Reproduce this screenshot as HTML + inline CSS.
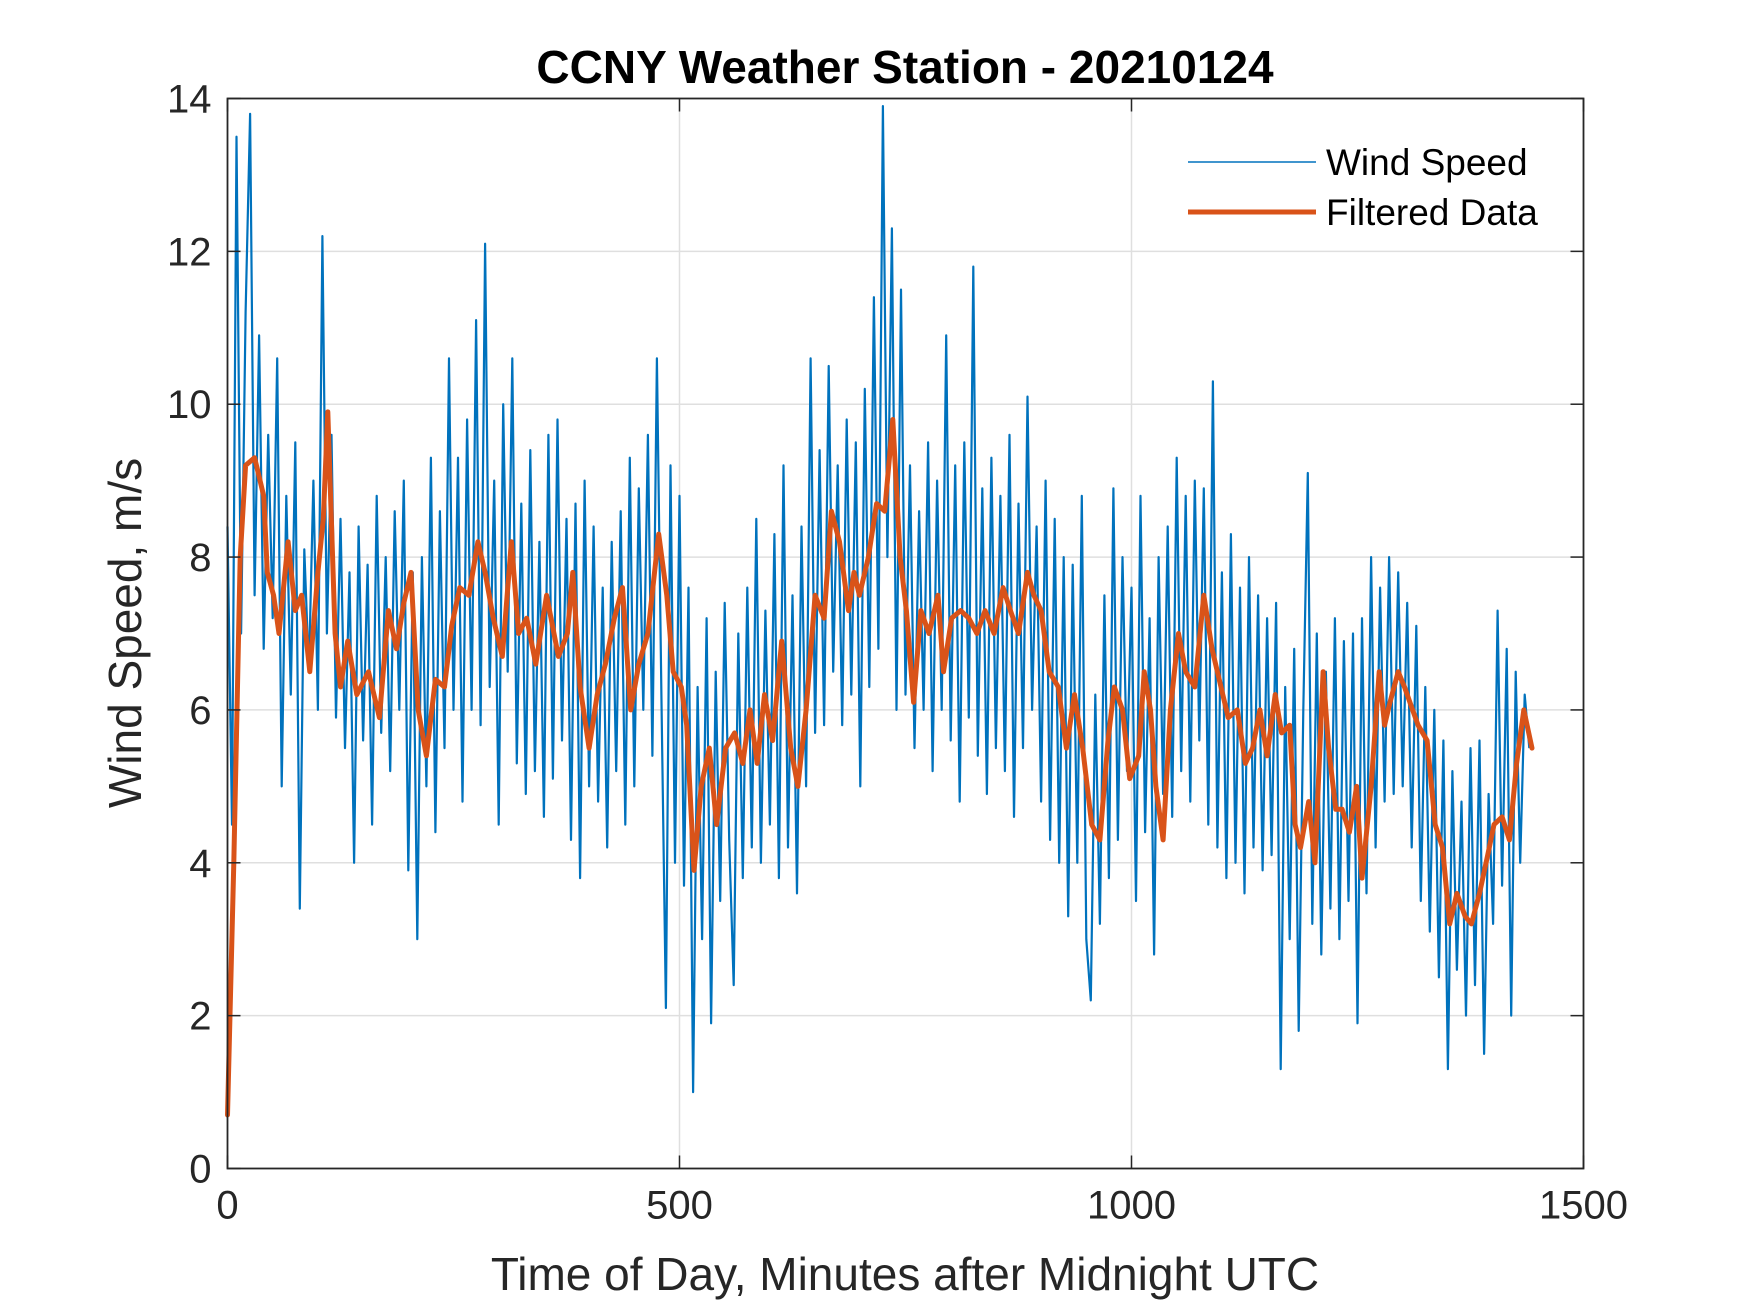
<!DOCTYPE html>
<html><head><meta charset="utf-8"><style>
html,body{margin:0;padding:0;background:#fff;}
svg{display:block;font-family:"Liberation Sans",Arial,sans-serif;}
</style></head><body>
<svg id="chart" width="1750" height="1313" viewBox="0 0 1750 1313" xmlns="http://www.w3.org/2000/svg">
<g id="grid"></g>
<g id="series"></g>
<g id="axes"></g>
<text x="905" y="83" text-anchor="middle" font-size="46" font-weight="bold" fill="#000">CCNY Weather Station - 20210124</text>
<text x="905" y="1290" text-anchor="middle" font-size="46" fill="#262626">Time of Day, Minutes after Midnight UTC</text>
<text transform="translate(141,633) rotate(-90)" text-anchor="middle" font-size="46" fill="#262626">Wind Speed, m/s</text>
<g>
<line x1="1188" y1="162" x2="1316" y2="162" stroke="#0072BD" stroke-width="1.6"/>
<text x="1326" y="175" font-size="37" fill="#000">Wind Speed</text>
<line x1="1188" y1="212" x2="1316" y2="212" stroke="#D95319" stroke-width="5"/>
<text x="1326" y="225" font-size="37" fill="#000">Filtered Data</text>
</g>
</svg>
<script>
const xTicks = [0, 500, 1000, 1500];
const yTicks = [0, 2, 4, 6, 8, 10, 12, 14];
const windStep = 5;
const windSpeed = [
8.4,4.5,13.5,7.0,11.2,13.8,7.5,10.9,6.8,9.6,7.2,10.6,
5.0,8.8,6.2,9.5,3.4,8.1,6.5,9.0,6.0,12.2,7.0,9.6,
5.9,8.5,5.5,7.8,4.0,8.4,5.6,7.9,4.5,8.8,5.7,8.0,
5.2,8.6,6.0,9.0,3.9,7.8,3.0,8.0,5.0,9.3,4.4,8.6,
5.5,10.6,6.0,9.3,4.8,9.8,6.0,11.1,5.8,12.1,6.3,9.0,
4.5,10.0,6.5,10.6,5.3,8.7,4.9,9.4,5.2,8.2,4.6,9.6,
5.1,9.8,5.6,8.5,4.3,8.7,3.8,9.0,5.0,8.4,4.8,7.6,
4.2,8.2,5.2,8.6,4.5,9.3,5.0,8.9,6.0,9.6,5.4,10.6,
6.2,2.1,9.2,4.0,8.8,3.7,7.6,1.0,6.3,3.0,7.2,1.9,
6.5,3.5,7.4,4.3,2.4,7.0,3.8,7.6,4.2,8.5,4.0,7.3,
4.5,8.3,3.8,9.2,4.2,7.5,3.6,8.4,5.0,10.6,5.7,9.4,
5.8,10.5,6.5,9.2,5.8,9.8,6.2,9.5,5.0,10.2,6.3,11.4,
6.8,13.9,8.0,12.3,6.0,11.5,6.2,9.2,5.5,8.6,6.0,9.5,
5.2,9.0,6.0,10.9,5.6,9.2,4.8,9.5,5.9,11.8,5.4,8.9,
4.9,9.3,5.5,8.8,5.2,9.6,4.6,8.7,5.5,10.1,6.0,8.4,
4.8,9.0,4.3,8.5,4.0,8.0,3.3,7.9,4.0,8.8,3.0,2.2,
6.2,3.2,7.5,3.8,8.9,4.3,8.0,5.2,7.6,3.5,8.8,4.4,
7.2,2.8,8.0,4.9,8.4,4.6,9.3,5.2,8.8,4.8,9.0,5.6,
8.9,4.5,10.3,4.2,7.8,3.8,8.3,4.0,7.6,3.6,8.0,4.2,
7.5,3.9,7.2,4.1,7.4,1.3,6.3,3.0,6.8,1.8,6.0,9.1,
3.2,7.0,2.8,6.5,3.4,7.2,3.0,6.9,3.5,7.0,1.9,7.2,
3.6,8.0,4.2,7.6,4.8,8.0,4.9,7.8,5.0,7.4,4.2,7.1,
3.5,6.3,3.1,6.0,2.5,5.6,1.3,5.2,2.6,4.8,2.0,5.5,
2.4,5.6,1.5,4.9,3.2,7.3,3.7,6.8,2.0,6.5,4.0,6.2,
5.5];
const filtTime = [0,7,14,20,30,40,44,51,57,67,75,82,91,100,106,111,119,125,133,143,156,168,178,187,195,203,211,220,230,240,248,257,267,277,285,294,304,314,322,331,341,353,366,376,382,390,400,409,418,428,437,446,455,465,477,486,493,502,508,516,524,533,541,551,561,570,578,586,594,603,613,623,631,640,650,660,668,677,687,693,699,709,718,727,736,744,751,759,767,776,786,792,801,811,820,829,838,848,858,866,875,885,892,900,909,919,928,937,946,956,965,974,981,990,998,1008,1014,1021,1027,1035,1043,1052,1060,1070,1080,1089,1097,1107,1117,1126,1134,1142,1150,1159,1166,1175,1181,1187,1196,1203,1212,1218,1226,1233,1241,1249,1255,1265,1274,1280,1286,1295,1302,1311,1317,1327,1336,1344,1352,1360,1369,1376,1385,1394,1401,1410,1418,1426,1434,1443];
const filtValue = [0.7,4,8,9.2,9.3,8.8,7.8,7.5,7.0,8.2,7.3,7.5,6.5,7.8,8.5,9.9,7.0,6.3,6.9,6.2,6.5,5.9,7.3,6.8,7.4,7.8,6.0,5.4,6.4,6.3,7.1,7.6,7.5,8.2,7.8,7.2,6.7,8.2,7.0,7.2,6.6,7.5,6.7,7.0,7.8,6.3,5.5,6.2,6.6,7.2,7.6,6.0,6.6,7.0,8.3,7.5,6.5,6.3,5.8,3.9,5.0,5.5,4.5,5.5,5.7,5.3,6.0,5.3,6.2,5.6,6.9,5.5,5.0,6.0,7.5,7.2,8.6,8.2,7.3,7.8,7.5,8.0,8.7,8.6,9.8,8.0,7.3,6.1,7.3,7.0,7.5,6.5,7.2,7.3,7.2,7.0,7.3,7.0,7.6,7.3,7.0,7.8,7.5,7.3,6.5,6.3,5.5,6.2,5.5,4.5,4.3,5.6,6.3,6.0,5.1,5.4,6.5,6.0,5.0,4.3,6.0,7.0,6.5,6.3,7.5,6.8,6.4,5.9,6.0,5.3,5.5,6.0,5.4,6.2,5.7,5.8,4.5,4.2,4.8,4.0,6.5,5.5,4.7,4.7,4.4,5.0,3.8,5.0,6.5,5.8,6.1,6.5,6.3,6.0,5.8,5.6,4.5,4.2,3.2,3.6,3.3,3.2,3.6,4.1,4.5,4.6,4.3,5.3,6.0,5.5];

const NS='http://www.w3.org/2000/svg';
const L=227.5,R=1583.5,T=98.5,B=1168.5;
const xScale=v=>L+(v-0)/(1500-0)*(R-L);
const yScale=v=>B-(v-0)/(14-0)*(B-T);
function mk(tag,attrs,parent){const e=document.createElementNS(NS,tag);for(const k in attrs)e.setAttribute(k,attrs[k]);parent.appendChild(e);return e;}
const grid=document.getElementById('grid'),series=document.getElementById('series'),axes=document.getElementById('axes');

xTicks.forEach(t=>{
  const x=xScale(t);
  if(t>0&&t<1500){const g=mk('line',{x1:x,y1:T,x2:x,y2:B,stroke:'#dfdfdf','stroke-width':1.5},grid);
  
  }
  const tk1=mk('line',{x1:x,y1:B,x2:x,y2:B-13,stroke:'#262626','stroke-width':1.5},axes);
  
  
  const tk2=mk('line',{x1:x,y1:T,x2:x,y2:T+13,stroke:'#262626','stroke-width':1.5},axes);
  
  
  const lb=mk('text',{x:x,y:B+50,'text-anchor':'middle','font-size':40,fill:'#262626'},axes);
  lb.textContent=t;
  
  
});
yTicks.forEach(t=>{
  const y=yScale(t);
  if(t>0&&t<14){const g=mk('line',{x1:L,y1:y,x2:R,y2:y,stroke:'#dfdfdf','stroke-width':1.5},grid);
  
  }
  const tk1=mk('line',{x1:L,y1:y,x2:L+13,y2:y,stroke:'#262626','stroke-width':1.5},axes);
  
  
  const tk2=mk('line',{x1:R,y1:y,x2:R-13,y2:y,stroke:'#262626','stroke-width':1.5},axes);
  
  
  const lb=mk('text',{x:L-16,y:y+14,'text-anchor':'end','font-size':40,fill:'#262626'},axes);
  lb.textContent=t;
  
  
});
const frame=mk('rect',{x:L,y:T,width:R-L,height:B-T,fill:'none',stroke:'#262626','stroke-width':1.8},axes);



const wp=windSpeed.map((v,i)=>xScale(i*windStep).toFixed(1)+','+yScale(v).toFixed(1)).join(' ');
const wl=mk('polyline',{points:wp,fill:'none',stroke:'#0072BD','stroke-width':2.2,'stroke-linejoin':'round'},series);


const fp=filtValue.map((v,i)=>xScale(filtTime[i]).toFixed(1)+','+yScale(v).toFixed(1)).join(' ');
const fl=mk('polyline',{points:fp,fill:'none',stroke:'#D95319','stroke-width':5,'stroke-linejoin':'round','stroke-linecap':'round'},series);


</script>
</body></html>
